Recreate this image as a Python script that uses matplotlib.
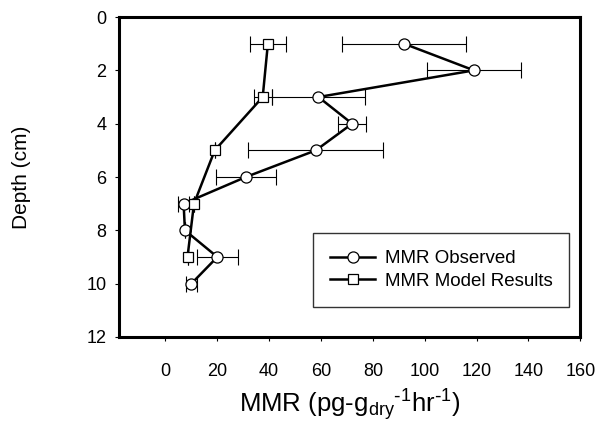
import matplotlib
matplotlib.use("Agg")
import matplotlib.pyplot as plt

plt.rcParams['font.family'] = ['Liberation Sans', 'DejaVu Sans']
plt.rcParams['mathtext.default'] = 'regular'

obs_depth = [1, 2, 3, 4, 5, 6, 7, 8, 9, 10]
obs_mmr = [92, 119, 59, 72, 58, 31, 7, 7.5, 20, 10]
obs_err = [24, 18, 18, 5.5, 26, 11.5, 2, 0, 8, 2]

mod_depth = [1, 3, 5, 7, 9]
mod_mmr = [39.5, 37.5, 19, 11, 8.5]
mod_err = [7, 3.5, 0, 0, 0]

xticks = [0, 20, 40, 60, 80, 100, 120, 140, 160]
yticks = [0, 2, 4, 6, 8, 10, 12]

fig = plt.figure(figsize=(5.97, 4.26), dpi=100)
ax = fig.add_axes([0.199, 0.209, 0.773, 0.751])

ax.errorbar(obs_mmr, obs_depth, xerr=obs_err, fmt='none', ecolor='black',
            elinewidth=0.8, capsize=5.5, capthick=0.8, zorder=2)
ax.errorbar(mod_mmr, mod_depth, xerr=mod_err, fmt='none', ecolor='black',
            elinewidth=0.8, capsize=5.5, capthick=0.8, zorder=2)

ax.plot(obs_mmr, obs_depth, '-', color='black', lw=1.8, marker='o',
        markersize=8, markerfacecolor='white', markeredgecolor='black',
        markeredgewidth=0.9, label='MMR Observed', zorder=3)
ax.plot(mod_mmr, mod_depth, '-', color='black', lw=1.8, marker='s',
        markersize=7, markerfacecolor='white', markeredgecolor='black',
        markeredgewidth=0.9, label='MMR Model Results', zorder=3)

ax.set_xlim(-18, 160)
ax.set_ylim(12, 0)
ax.set_xticks(xticks)
ax.set_yticks(yticks)
ax.tick_params(axis='both', labelsize=13, direction='out', length=3, width=0.8)
ax.tick_params(axis='x', pad=16)
ax.tick_params(axis='y', pad=6)

for s in ax.spines.values():
    s.set_linewidth(2.2)

ax.set_ylabel('Depth (cm)', fontsize=15, labelpad=40)
ax.set_xlabel(r'MMR (pg-g$_{dry}$$^{\text{-}1}$hr$^{\text{-}1}$)',
              fontsize=18.5, labelpad=5)

leg = ax.legend(loc='lower right', bbox_to_anchor=(0.976, 0.094), fontsize=13.5,
                frameon=True, fancybox=False, edgecolor='black',
                handlelength=2.4, handletextpad=0.5, borderpad=0.9,
                labelspacing=0.3, borderaxespad=0)
leg.get_frame().set_linewidth(1.0)

fig.savefig('out.png', dpi=100)
